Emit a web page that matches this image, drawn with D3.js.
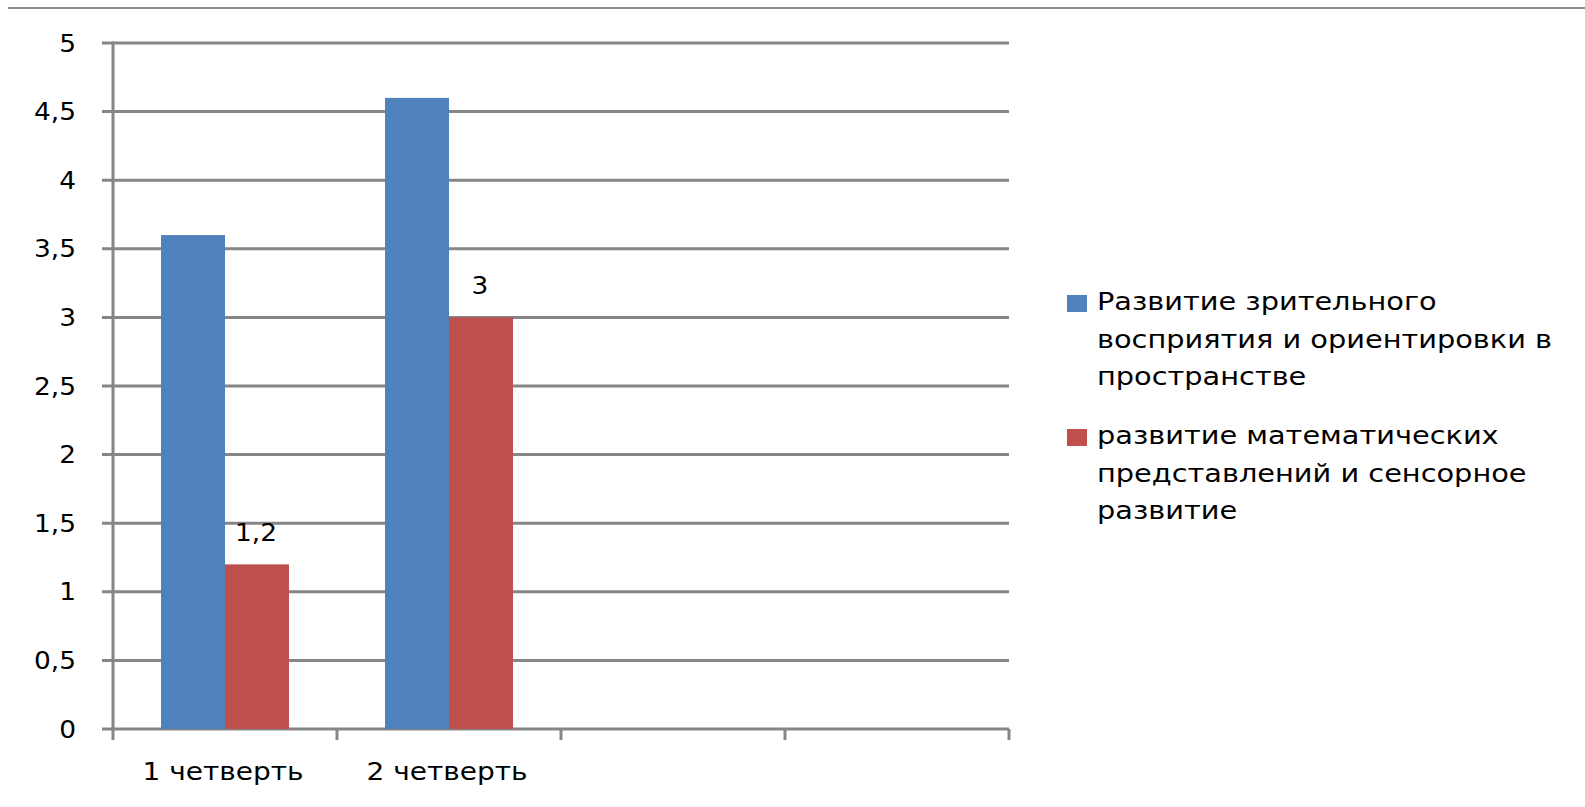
<!DOCTYPE html>
<html>
<head>
<meta charset="utf-8">
<script src="https://cdn.jsdelivr.net/npm/d3@7"></script>
<style>
  body { margin: 0; background: #fff; }
  svg text { font-family: "DejaVu Sans", Verdana, sans-serif; fill: #000; }
</style>
</head>
<body>
<div id="chart"></div>
<script>
// chart data
var categories = ["q1", "q2", "q3", "q4"];
var categoryLabels = ["1 четверть", "2 четверть", "", ""];
var seriesNames = [
  "Развитие зрительного восприятия и ориентировки в пространстве",
  "развитие математических представлений и сенсорное развитие"
];
var legendLines = [
  ["Развитие зрительного", "восприятия и ориентировки в", "пространстве"],
  ["развитие математических", "представлений и сенсорное", "развитие"]
];
var seriesColors = ["#4f81bd", "#c0504d"];
var visualValues = [3.6, 4.6, null, null];   // blue
var mathValues = [1.2, 3, null, null];       // red
var yTicks = [0, 0.5, 1, 1.5, 2, 2.5, 3, 3.5, 4, 4.5, 5];

var width = 1585, height = 807;
var margin = {top: 43, left: 113, right: 576, bottom: 78};
var grey = "#868686";

var svg = d3.select("#chart").append("svg")
    .attr("width", width)
    .attr("height", height);

// place a text with a slight horizontal stretch (the source font is wider)
function stretched(sel, sx) {
  sel.attr("transform", function() {
    var t = d3.select(this);
    var px = +t.attr("data-x"), py = +t.attr("data-y");
    return "translate(" + px + "," + py + ") scale(" + sx + ",1)";
  });
}

// thin rule across the top of the slide
svg.append("line")
    .attr("x1", 8).attr("x2", width)
    .attr("y1", 8).attr("y2", 8)
    .attr("stroke", "#8a8a8a").attr("stroke-width", 2);

var x = d3.scaleBand()
    .domain(categories)
    .range([margin.left, width - margin.right])
    .padding(0);

// two bars per group, Excel-like 150% gap
var xInner = d3.scaleBand()
    .domain([0, 1])
    .range([0, x.bandwidth()])
    .paddingInner(0)
    .paddingOuter(0.75);

var y = d3.scaleLinear()
    .domain([0, 5])
    .range([height - margin.bottom, margin.top]);

// gridlines (with the little tick stub left of the axis)
svg.append("g")
    .selectAll("line")
    .data(yTicks)
    .enter().append("line")
    .attr("x1", margin.left - 11)
    .attr("x2", width - margin.right)
    .attr("y1", function(d) { return y(d); })
    .attr("y2", function(d) { return y(d); })
    .attr("stroke", grey)
    .attr("stroke-width", 3);

// y tick labels
svg.append("g")
    .selectAll("text")
    .data(yTicks)
    .enter().append("text")
    .attr("data-x", margin.left - 37)
    .attr("data-y", function(d) { return y(d); })
    .attr("dy", "0.36em")
    .attr("text-anchor", "end")
    .style("font-size", "24px")
    .text(function(d) { return String(d).replace(".", ","); })
    .call(stretched, 1.1);

// bars
var series = [visualValues, mathValues];
series.forEach(function(vals, si) {
  svg.append("g")
      .selectAll("rect")
      .data(categories.map(function(c, i) { return {cat: c, v: vals[i]}; })
        .filter(function(d) { return d.v != null; }))
      .enter().append("rect")
      .attr("x", function(d) { return x(d.cat) + xInner(si); })
      .attr("y", function(d) { return y(d.v); })
      .attr("width", xInner.bandwidth())
      .attr("height", function(d) { return y(0) - y(d.v); })
      .attr("fill", seriesColors[si]);
});

// data labels on the red series only
svg.append("g")
    .selectAll("text")
    .data(categories.map(function(c, i) { return {cat: c, v: mathValues[i]}; })
      .filter(function(d) { return d.v != null; }))
    .enter().append("text")
    .attr("data-x", function(d) { return x(d.cat) + xInner(1) + xInner.bandwidth() / 2 - 1; })
    .attr("data-y", function(d) { return y(d.v) - 23; })
    .attr("text-anchor", "middle")
    .style("font-size", "24px")
    .text(function(d) { return String(d.v).replace(".", ","); })
    .call(stretched, 1.1);

// axes
var axisY0 = y(0);
svg.append("line")
    .attr("x1", margin.left).attr("x2", margin.left)
    .attr("y1", y(5) - 1.5).attr("y2", axisY0 + 11)
    .attr("stroke", grey).attr("stroke-width", 3);

var boundaries = categories.map(function(c) { return x(c); }).concat([x.range()[1]]);
svg.append("g")
    .selectAll("line")
    .data(boundaries.slice(1))
    .enter().append("line")
    .attr("x1", function(d) { return d; })
    .attr("x2", function(d) { return d; })
    .attr("y1", axisY0)
    .attr("y2", axisY0 + 11)
    .attr("stroke", grey).attr("stroke-width", 3);

// category labels
svg.append("g")
    .selectAll("text")
    .data(categories)
    .enter().append("text")
    .attr("data-x", function(c) { return x(c) + x.bandwidth() / 2 - 2; })
    .attr("data-y", axisY0 + 51)
    .attr("text-anchor", "middle")
    .style("font-size", "25px")
    .text(function(c, i) { return categoryLabels[i]; })
    .call(stretched, 1.12);

// legend
var legendTop = [310, 444];
var legend = svg.append("g");
seriesNames.forEach(function(name, si) {
  var g = legend.append("g").attr("class", "legend-item").attr("data-name", name);
  g.append("rect")
      .attr("x", 1067)
      .attr("y", legendTop[si] - 15)
      .attr("width", 20).attr("height", 17)
      .attr("fill", seriesColors[si]);
  g.selectAll("text")
      .data(legendLines[si])
      .enter().append("text")
      .attr("data-x", 1097)
      .attr("data-y", function(d, i) { return legendTop[si] + i * 37.5; })
      .style("font-size", "24px")
      .text(function(d) { return d; })
      .call(stretched, 1.2);
});
</script>
</body>
</html>
